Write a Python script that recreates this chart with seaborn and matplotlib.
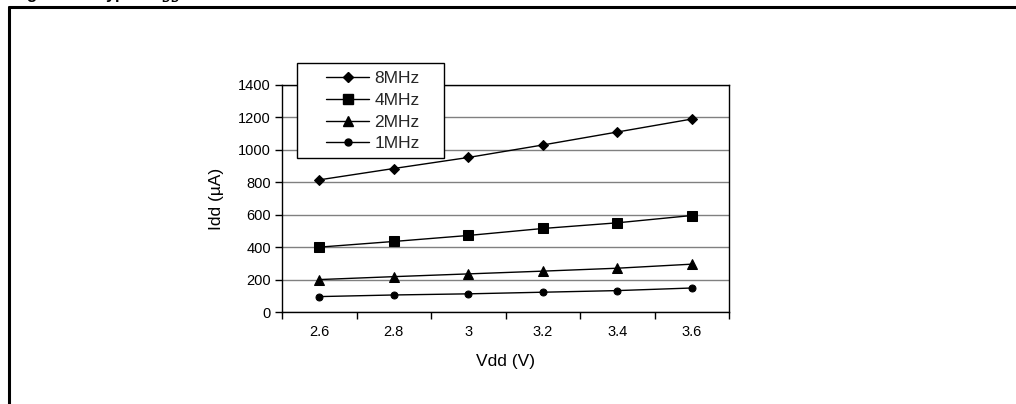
import matplotlib

matplotlib.use("Agg")
import matplotlib.pyplot as plt
import matplotlib.patches as mpatches
import matplotlib.lines as mlines
import numpy as np
import pandas as pd
import seaborn as sns

# supply voltage (categories on the x axis)
vdd = ["2.6", "2.8", "3", "3.2", "3.4", "3.6"]

# supply current in uA
idd_8mhz = [815, 885, 953, 1030, 1110, 1190]
idd_4mhz = [400, 435, 472, 515, 550, 595]
idd_2mhz = [200, 218, 235, 252, 270, 295]
idd_1mhz = [95, 105, 112, 122, 132, 148]

series = ["8MHz", "4MHz", "2MHz", "1MHz"]
markers = {"8MHz": ("D", 5.4), "4MHz": ("s", 7.0), "2MHz": ("^", 7.0), "1MHz": ("o", 5.0)}

sns.set_theme(style="white")
plt.rcParams["font.family"] = ["Liberation Sans", "DejaVu Sans"]

W, H = 1016, 404
fig = plt.figure(figsize=(W / 100, H / 100), dpi=100)


def fx(px):
    return px / W


def fy(py):
    return 1 - py / H


ax = fig.add_axes([fx(282), fy(312), fx(729) - fx(282), fy(85) - fy(312)])

df = pd.DataFrame({
    "pos": list(range(len(vdd))) * 4,
    "idd": idd_8mhz + idd_4mhz + idd_2mhz + idd_1mhz,
    "freq": sum([[s] * len(vdd) for s in series], []),
})

for s in series:
    m, ms = markers[s]
    sns.lineplot(data=df[df.freq == s], x="pos", y="idd", ax=ax, color="black",
                 marker=m, markersize=ms, markeredgecolor="black", linewidth=1.0,
                 label=s, legend=False)

ax.set_xlim(-0.5, len(vdd) - 0.5)
ax.set_ylim(0, 1400)
ax.set_yticks(np.arange(0, 1401, 200))
ax.set_xticks(range(len(vdd)))
ax.set_xticklabels(vdd)
ax.set_xticks(np.arange(-0.5, len(vdd)), minor=True)
ax.tick_params(axis="x", which="major", length=0, pad=9, labelsize=10.5, colors="black")
ax.tick_params(axis="x", which="minor", length=5, width=1, direction="out", bottom=True, color="black")
ax.tick_params(axis="y", which="major", length=5, width=1, direction="out", left=True,
               labelsize=10.5, colors="black", pad=3)
ax.yaxis.grid(True, color="#808080", linewidth=1.0)
ax.set_axisbelow(True)
for sp in ax.spines.values():
    sp.set_color("black")
    sp.set_linewidth(1.0)

ax.set_xlabel("Vdd (V)", fontsize=12.5, labelpad=11, color="black")
ax.set_ylabel("Idd (µA)", fontsize=12.5, labelpad=10, color="black")

# legend: box drawn separately to get the wide side padding of the original
handles = [mlines.Line2D([], [], color="black", linewidth=1.0, marker=markers[s][0],
                         markersize=markers[s][1]) for s in series]
fig.legend(handles, series, loc="upper left", bbox_to_anchor=(fx(326), fy(71)),
           bbox_transform=fig.transFigure, frameon=False, fontsize=12.5,
           handlelength=2.5, handletextpad=0.3, labelspacing=0.38, borderpad=0,
           borderaxespad=0)
fig.patches.append(mpatches.Rectangle((fx(297), fy(158)), fx(444) - fx(297), fy(63) - fy(158),
                                      transform=fig.transFigure, facecolor="white",
                                      edgecolor="black", linewidth=1.0, zorder=3))

# outer figure frame (top and left edges visible)
fig.add_artist(mlines.Line2D([fx(9), fx(9)], [0, fy(7)], color="black", linewidth=2.2,
                             transform=fig.transFigure))
fig.add_artist(mlines.Line2D([fx(9), 1], [fy(7), fy(7)], color="black", linewidth=2.2,
                             transform=fig.transFigure))

# caption above the frame, cropped by the image edge as in the original
fig.text(fx(12), fy(-1), "Figure 20. Typical I$_{\\mathregular{DD}}$ in Run mode", fontsize=12,
         fontweight="bold", ha="left", va="baseline", color="black")

fig.savefig("out.png", dpi=100, facecolor="white")
